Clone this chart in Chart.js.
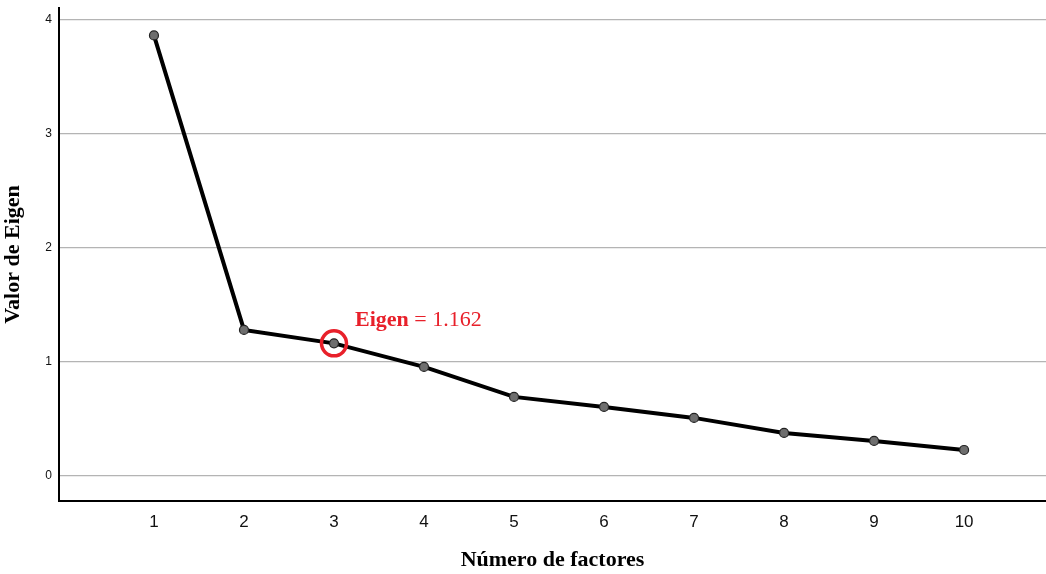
<!DOCTYPE html>
<html>
<head>
<meta charset="utf-8">
<script src="https://cdn.jsdelivr.net/npm/chart.js@4.4.1/dist/chart.umd.min.js"></script>
<style>
  html, body { margin: 0; padding: 0; background: #fff; overflow: hidden; }
  #wrap { width: 1046px; height: 574px; }
  canvas { display: block; }
</style>
</head>
<body>
<div id="wrap"><canvas id="c" width="1046" height="574"></canvas></div>
<script>
// Scree plot: eigenvalue per factor
const factores = [1, 2, 3, 4, 5, 6, 7, 8, 9, 10];
const eigenvalores = [3.86, 1.28, 1.162, 0.956, 0.693, 0.605, 0.509, 0.377, 0.307, 0.228];
const yTicks = [0, 1, 2, 3, 4];
const factorMarcado = 3;
const eigenMarcado = 1.162;

// Circle and label around the retained-factor cut point
const marcaPlugin = {
  id: 'marca',
  afterDatasetsDraw(chart) {
    const { ctx, scales } = chart;
    const x = scales.x.getPixelForValue(factorMarcado);
    const y = scales.y.getPixelForValue(eigenMarcado);
    ctx.save();
    ctx.strokeStyle = '#e8202a';
    ctx.lineWidth = 3.5;
    ctx.beginPath();
    ctx.arc(x, y, 12.5, 0, Math.PI * 2);
    ctx.stroke();
    ctx.fillStyle = '#e8202a';
    ctx.textBaseline = 'alphabetic';
    ctx.font = 'bold 22px "Liberation Serif", "Times New Roman", serif';
    const tx = x + 21, ty = y - 17;
    ctx.fillText('Eigen', tx, ty);
    const w = ctx.measureText('Eigen').width;
    ctx.font = '22px "Liberation Serif", "Times New Roman", serif';
    ctx.fillText(' = ' + eigenMarcado.toFixed(3), tx + w, ty);
    ctx.restore();
  }
};

new Chart(document.getElementById('c'), {
  type: 'line',
  data: {
    datasets: [{
      data: factores.map((f, i) => ({ x: f, y: eigenvalores[i] })),
      borderColor: '#000',
      borderWidth: 4,
      pointRadius: 4.5,
      pointBackgroundColor: '#6e6e6e',
      pointBorderColor: '#222',
      pointBorderWidth: 1.2,
      tension: 0,
      fill: false
    }]
  },
  options: {
    responsive: false,
    animation: false,
    layout: { autoPadding: false, padding: { top: 8, right: 0, bottom: 0, left: 0 } },
    plugins: { legend: { display: false }, tooltip: { enabled: false } },
    scales: {
      x: {
        type: 'linear',
        min: -0.055,
        max: 10.91,
        afterBuildTicks(axis) { axis.ticks = factores.map(v => ({ value: v })); },
        afterFit(axis) { axis.height = 73; axis.paddingLeft = 0; axis.paddingRight = 0; },
        grid: { display: false, drawTicks: false },
        border: { display: true, color: '#000', width: 2 },
        ticks: {
          color: '#111',
          font: { family: 'Arial, "Liberation Sans", sans-serif', size: 17 },
          padding: 11,
          callback: v => String(v)
        },
        title: {
          display: true,
          text: 'Número de factores',
          color: '#000',
          font: { family: '"Liberation Serif", "Times New Roman", serif', size: 22, weight: 'bold' },
          padding: { top: 14, bottom: 0 }
        }
      },
      y: {
        type: 'linear',
        min: -0.219,
        max: 4.1,
        afterBuildTicks(axis) { axis.ticks = yTicks.map(v => ({ value: v })); },
        afterFit(axis) { axis.width = 59; axis.paddingTop = 0; axis.paddingBottom = 0; },
        grid: { color: '#b4b4b4', lineWidth: 1.3, drawTicks: false },
        border: { display: true, color: '#000', width: 2 },
        ticks: {
          color: '#111',
          font: { family: 'Arial, "Liberation Sans", sans-serif', size: 12 },
          padding: 7
        },
        title: {
          display: true,
          text: 'Valor de Eigen',
          color: '#000',
          font: { family: '"Liberation Serif", "Times New Roman", serif', size: 22, weight: 'bold' },
          padding: { top: 0, bottom: 12 }
        }
      }
    }
  },
  plugins: [marcaPlugin]
});
</script>
</body>
</html>
